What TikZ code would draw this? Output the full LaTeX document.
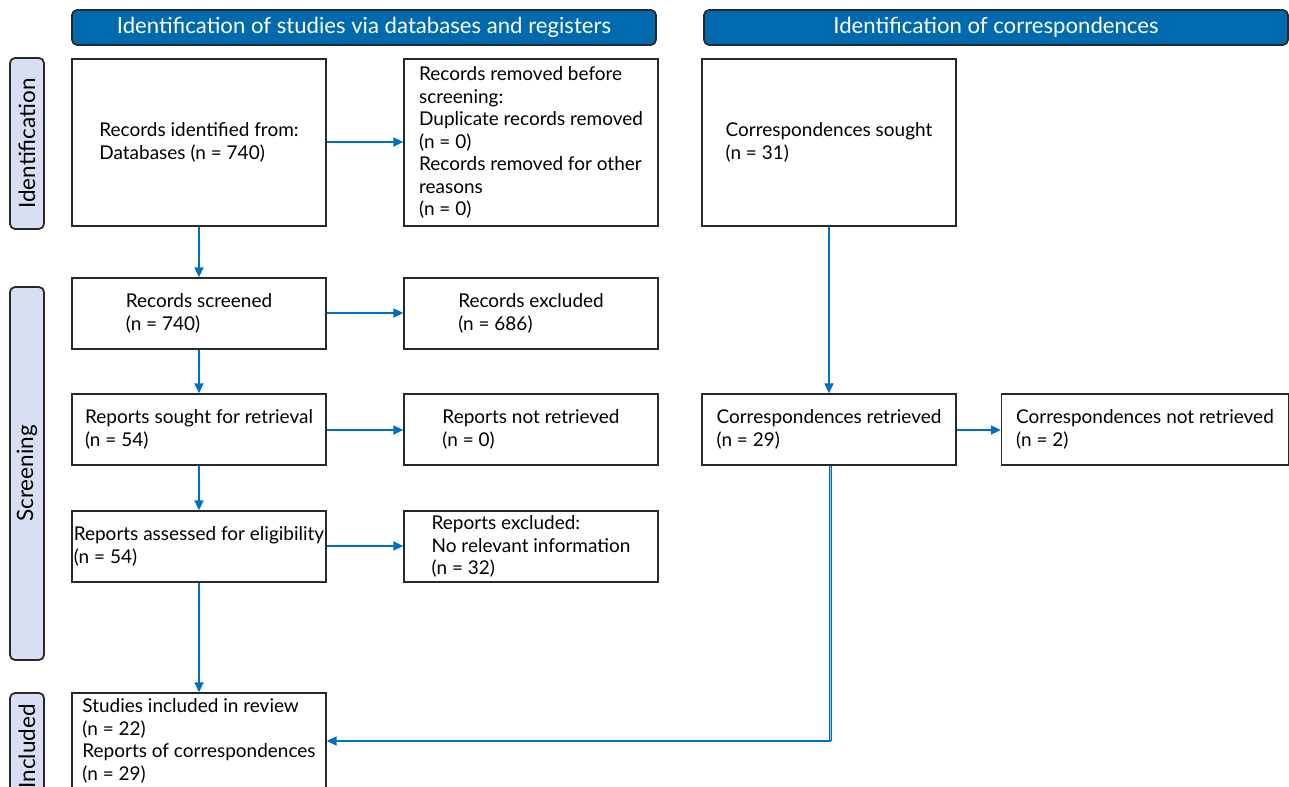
\documentclass[tikz,border=0pt]{standalone}
\usepackage{fontspec}
\setmainfont{Lato}
\usetikzlibrary{arrows.meta}

\definecolor{headblue}{RGB}{0,106,174}
\definecolor{lineblue}{RGB}{0,112,190}
\definecolor{phasefill}{RGB}{217,223,242}
\definecolor{edgegray}{RGB}{40,40,40}

\begin{document}
\begin{tikzpicture}[x=0.02cm, y=-0.02cm,
    every node/.style={font=\fontsize{10.8}{12.8}\selectfont},
    box/.style={draw=edgegray, line width=0.8pt, align=left, inner sep=0pt, minimum width=5.08cm},
    tallbox/.style={box, minimum height=3.34cm},
    shortbox/.style={box, minimum height=1.42cm},
    header/.style={draw=edgegray, line width=1pt, fill=headblue, rounded corners=0.1cm, text=white,
        font=\fontsize{12.6}{14}\selectfont, minimum width=11.68cm, minimum height=0.7cm},
    phase/.style={draw=edgegray, line width=1pt, fill=phasefill, rounded corners=0.1cm, rotate=90,
        minimum height=0.68cm, font=\fontsize{12.8}{14}\selectfont},
    link/.style={draw=lineblue, line width=1pt, -{Triangle[length=0.2cm,width=0.18cm]}},
    dbllink/.style={draw=lineblue, line width=0.65pt, double=lineblue!45, double distance=0.5pt}]

    \useasboundingbox (0,0) rectangle (1289,787);

    % Draw Headers
    \node[header] (hdbase) at (364,27.5) {Identification of studies via databases and registers};
    \node[header] (hdcorr) at (996,27.5) {Identification of correspondences};

    % Draw Phase Labels
    \node[phase, minimum width=3.42cm] (phident) at (27,143.5) {Identification};
    \node[phase, minimum width=7.46cm] (phscreen) at (27,473.5) {Screening};
    \node[phase, minimum width=2.14cm] (phincl) at (27,746.5) {Included};

    % Boxes
    % -- databases column
    \node[tallbox] (ident) at (199,142.5) {Records identified from:\\Databases (n = 740)};
    \node[shortbox] (screened) at (199,313.5) {Records screened\\(n = 740)};
    \node[shortbox] (sought) at (199,429.5) {Reports sought for retrieval\\(n = 54)};
    \node[shortbox] (assessed) at (199,546.5) {Reports assessed for eligibility\\(n = 54)};
    \node[box, minimum height=1.92cm] (incl) at (199,741) {Studies included in review\\(n = 22)\\Reports of correspondences\\(n = 29)};

    % -- removed / excluded column
    \node[tallbox] (removed) at (531,142.5) {Records removed before\\screening:\\Duplicate records removed\\(n = 0)\\Records removed for other\\reasons\\(n = 0)};
    \node[shortbox] (excluded) at (531,313.5) {Records excluded\\(n = 686)};
    \node[shortbox] (notretr) at (531,429.5) {Reports not retrieved\\(n = 0)};
    \node[shortbox] (repexcl) at (531,546.5) {Reports excluded:\\No relevant information\\(n = 32)};

    % -- correspondences column
    \node[tallbox] (corrsought) at (829,142.5) {Correspondences sought\\(n = 31)};
    \node[shortbox] (corrretr) at (829,429.5) {Correspondences retrieved\\(n = 29)};
    \node[shortbox, minimum width=5.74cm] (corrnot) at (1145,429.5) {Correspondences not retrieved\\(n = 2)};

    % Connectors
    \draw[link] (ident.east |- 0,142) -- (removed.west |- 0,142);
    \draw[link] (ident) -- (screened);
    \draw[link] (screened.east |- 0,313) -- (excluded.west |- 0,313);
    \draw[link] (screened) -- (sought);
    \draw[link] (sought.east |- 0,430) -- (notretr.west |- 0,430);
    \draw[link] (sought) -- (assessed);
    \draw[link] (assessed.east |- 0,546) -- (repexcl.west |- 0,546);
    \draw[link] (assessed) -- (incl);

    % -- correspondences
    \draw[link] (corrsought) -- (corrretr);
    \draw[link] (corrretr.east |- 0,430) -- (corrnot.west |- 0,430);
    \coordinate (bend) at ([xshift=0.03cm]corrretr.south |- incl.east);
    \draw[dbllink] ([xshift=0.03cm]corrretr.south) -- (bend);
    \draw[link] (bend) -- (incl);
\end{tikzpicture}
\end{document}
